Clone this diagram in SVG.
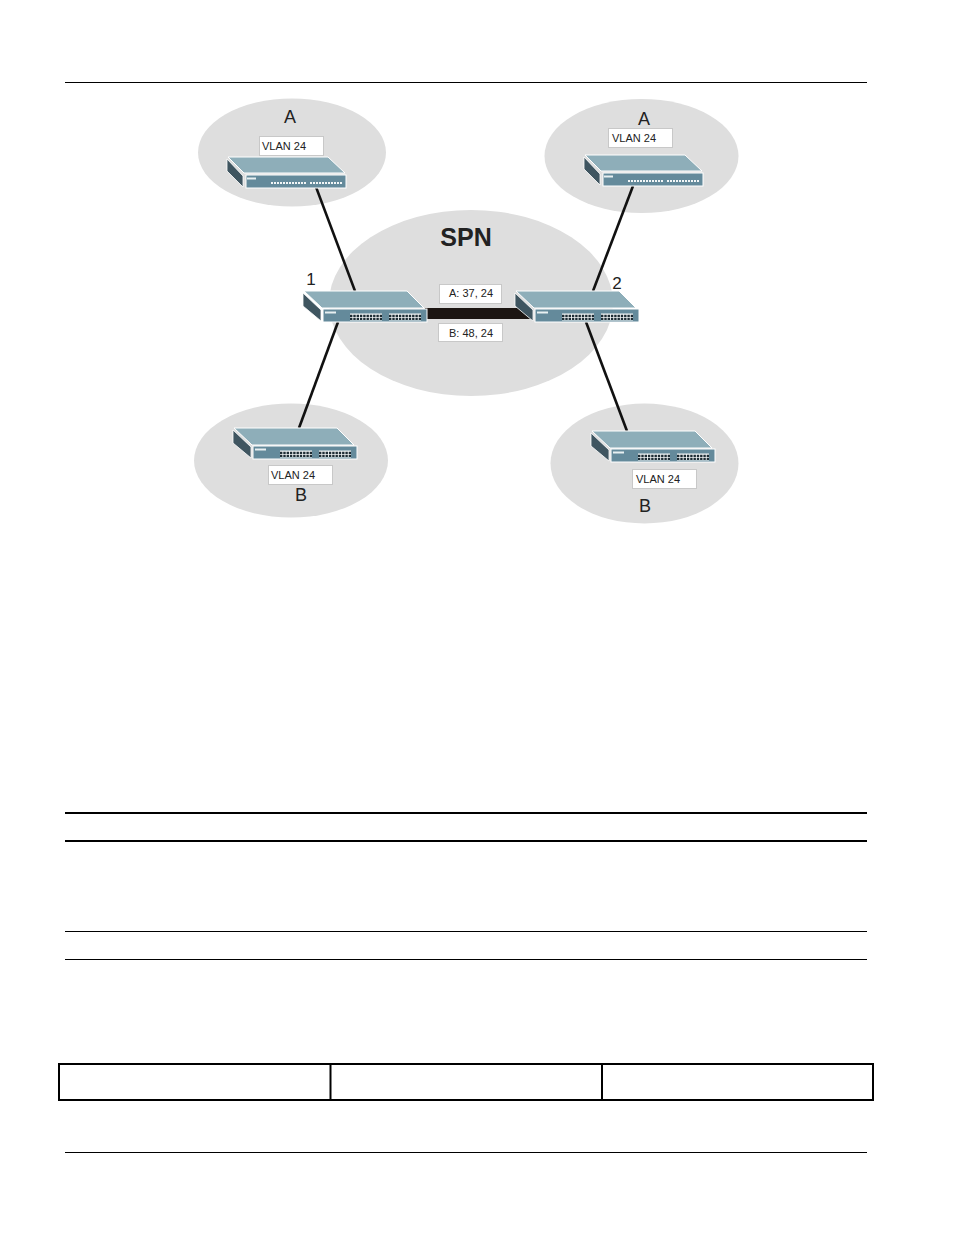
<svg xmlns="http://www.w3.org/2000/svg" width="954" height="1235" viewBox="0 0 954 1235">
<style>
.cloud{fill:#dedede}
.link{stroke:#111;stroke-width:2.6;fill:none}
.rule{stroke:#000;stroke-width:1;fill:none}
.rule2{stroke:#000;stroke-width:2;fill:none}
.box{fill:#fff;stroke:#c8c8c8;stroke-width:1}
.t{font-family:"Liberation Sans",Arial,sans-serif;fill:#222;text-anchor:middle}
.v{font-size:11px}
.l{font-size:18px}
.top{fill:#8eaeb9;stroke:#fff;stroke-width:1}
.side{fill:#3f5560;stroke:#fff;stroke-width:.8}
.front{fill:#648a9b;stroke:#fff;stroke-width:1}
.led{fill:#e8f0f2}
.port{fill:#f2f5f6}
.grid{stroke:#1d2c34;stroke-width:2.2;stroke-dasharray:2.400 .9;fill:none}
.thin{stroke:#f2f6f7;stroke-width:2;stroke-dasharray:2 1;fill:none}
</style>
<defs>
<g id="switch-wide">
<polygon class="side" points="0,2 18,19 18,30 0,15"/>
<polygon class="top" points="1,0 104,0 121,17 19,17"/>
<rect class="front" x="20" y="18" width="104" height="13"/>
<rect class="led" x="22" y="20.500" width="11" height="2"/>
<rect class="port" x="47" y="22.500" width="32" height="7"/>
<rect class="port" x="86" y="22.500" width="32" height="7"/>
<path class="grid" d="M47 24.800H79M47 27.800H79M86 24.800H118M86 27.800H118"/>
</g>
<g id="switch-thin">
<polygon class="side" points="0,2 16,19 16,30 0,14"/>
<polygon class="top" points="1,0 101,0 118,16 17,16"/>
<rect class="front" x="19" y="18" width="100" height="13"/>
<rect class="led" x="20" y="20.500" width="9" height="2"/>
<path class="thin" d="M44 26H79M83 26H115"/>
</g>
</defs>
<g id="page-rules">
<line class="rule" x1="65" y1="82.500" x2="867" y2="82.500"/>
<line class="rule2" x1="65" y1="813" x2="867" y2="813"/>
<line class="rule2" x1="65" y1="841" x2="867" y2="841"/>
<line class="rule" x1="65" y1="931.500" x2="867" y2="931.500"/>
<line class="rule" x1="65" y1="959.500" x2="867" y2="959.500"/>
<line class="rule" x1="65" y1="1152.500" x2="867" y2="1152.500"/>
</g>
<g id="empty-table">
<rect class="rule2" x="59" y="1064" width="814" height="36"/>
<line class="rule2" x1="330.500" y1="1064" x2="330.500" y2="1100"/>
<line class="rule2" x1="602" y1="1064" x2="602" y2="1100"/>
</g>
<g id="clouds">
<ellipse class="cloud" cx="292" cy="152.500" rx="94" ry="54"/>
<ellipse class="cloud" cx="641.500" cy="156" rx="97" ry="57"/>
<ellipse class="cloud" cx="471" cy="303" rx="142" ry="93"/>
<ellipse class="cloud" cx="291" cy="460.500" rx="97" ry="57"/>
<ellipse class="cloud" cx="644.500" cy="463.500" rx="94" ry="60"/>
</g>
<g id="connectors">
<line class="link" x1="316" y1="187" x2="355" y2="291"/>
<line class="link" x1="338" y1="322" x2="299" y2="428"/>
<line class="link" x1="633" y1="186" x2="593" y2="291"/>
<line class="link" x1="586" y1="322" x2="627" y2="431"/>
<rect x="425" y="308" width="106" height="11" fill="#1c1512"/>
</g>
<g id="node-a-left">
<use href="#switch-thin" x="227" y="157"/>
<rect class="box" x="259.500" y="136.500" width="64" height="19"/>
<text class="t v" x="284" y="150">VLAN 24</text>
<text class="t l" x="290" y="123">A</text>
</g>
<g id="node-a-right">
<use href="#switch-thin" x="584" y="155"/>
<rect class="box" x="608.500" y="128.500" width="64" height="19"/>
<text class="t v" x="634" y="142">VLAN 24</text>
<text class="t l" x="644" y="125">A</text>
</g>
<g id="node-1">
<use href="#switch-wide" x="303" y="291"/>
<text class="t l" x="311" y="285" style="font-size:17px">1</text>
</g>
<g id="node-2">
<use href="#switch-wide" x="515" y="291"/>
<text class="t l" x="617" y="289" style="font-size:17px">2</text>
</g>
<g id="node-b-left">
<use href="#switch-wide" x="233" y="428"/>
<rect class="box" x="268.500" y="465.500" width="64" height="19"/>
<text class="t v" x="293" y="479">VLAN 24</text>
<text class="t l" x="301" y="501">B</text>
</g>
<g id="node-b-right">
<use href="#switch-wide" x="591" y="431"/>
<rect class="box" x="632.500" y="469.500" width="64" height="19"/>
<text class="t v" x="658" y="483">VLAN 24</text>
<text class="t l" x="645" y="512">B</text>
</g>
<g id="labels">
<text class="t" x="466" y="246" style="font-size:25px;font-weight:bold">SPN</text>
<rect class="box" x="439.500" y="284.500" width="62" height="19"/>
<text class="t v" x="471" y="297">A: 37, 24</text>
<rect class="box" x="438.500" y="323.500" width="64" height="18"/>
<text class="t v" x="471" y="337">B: 48, 24</text>
</g>
</svg>
